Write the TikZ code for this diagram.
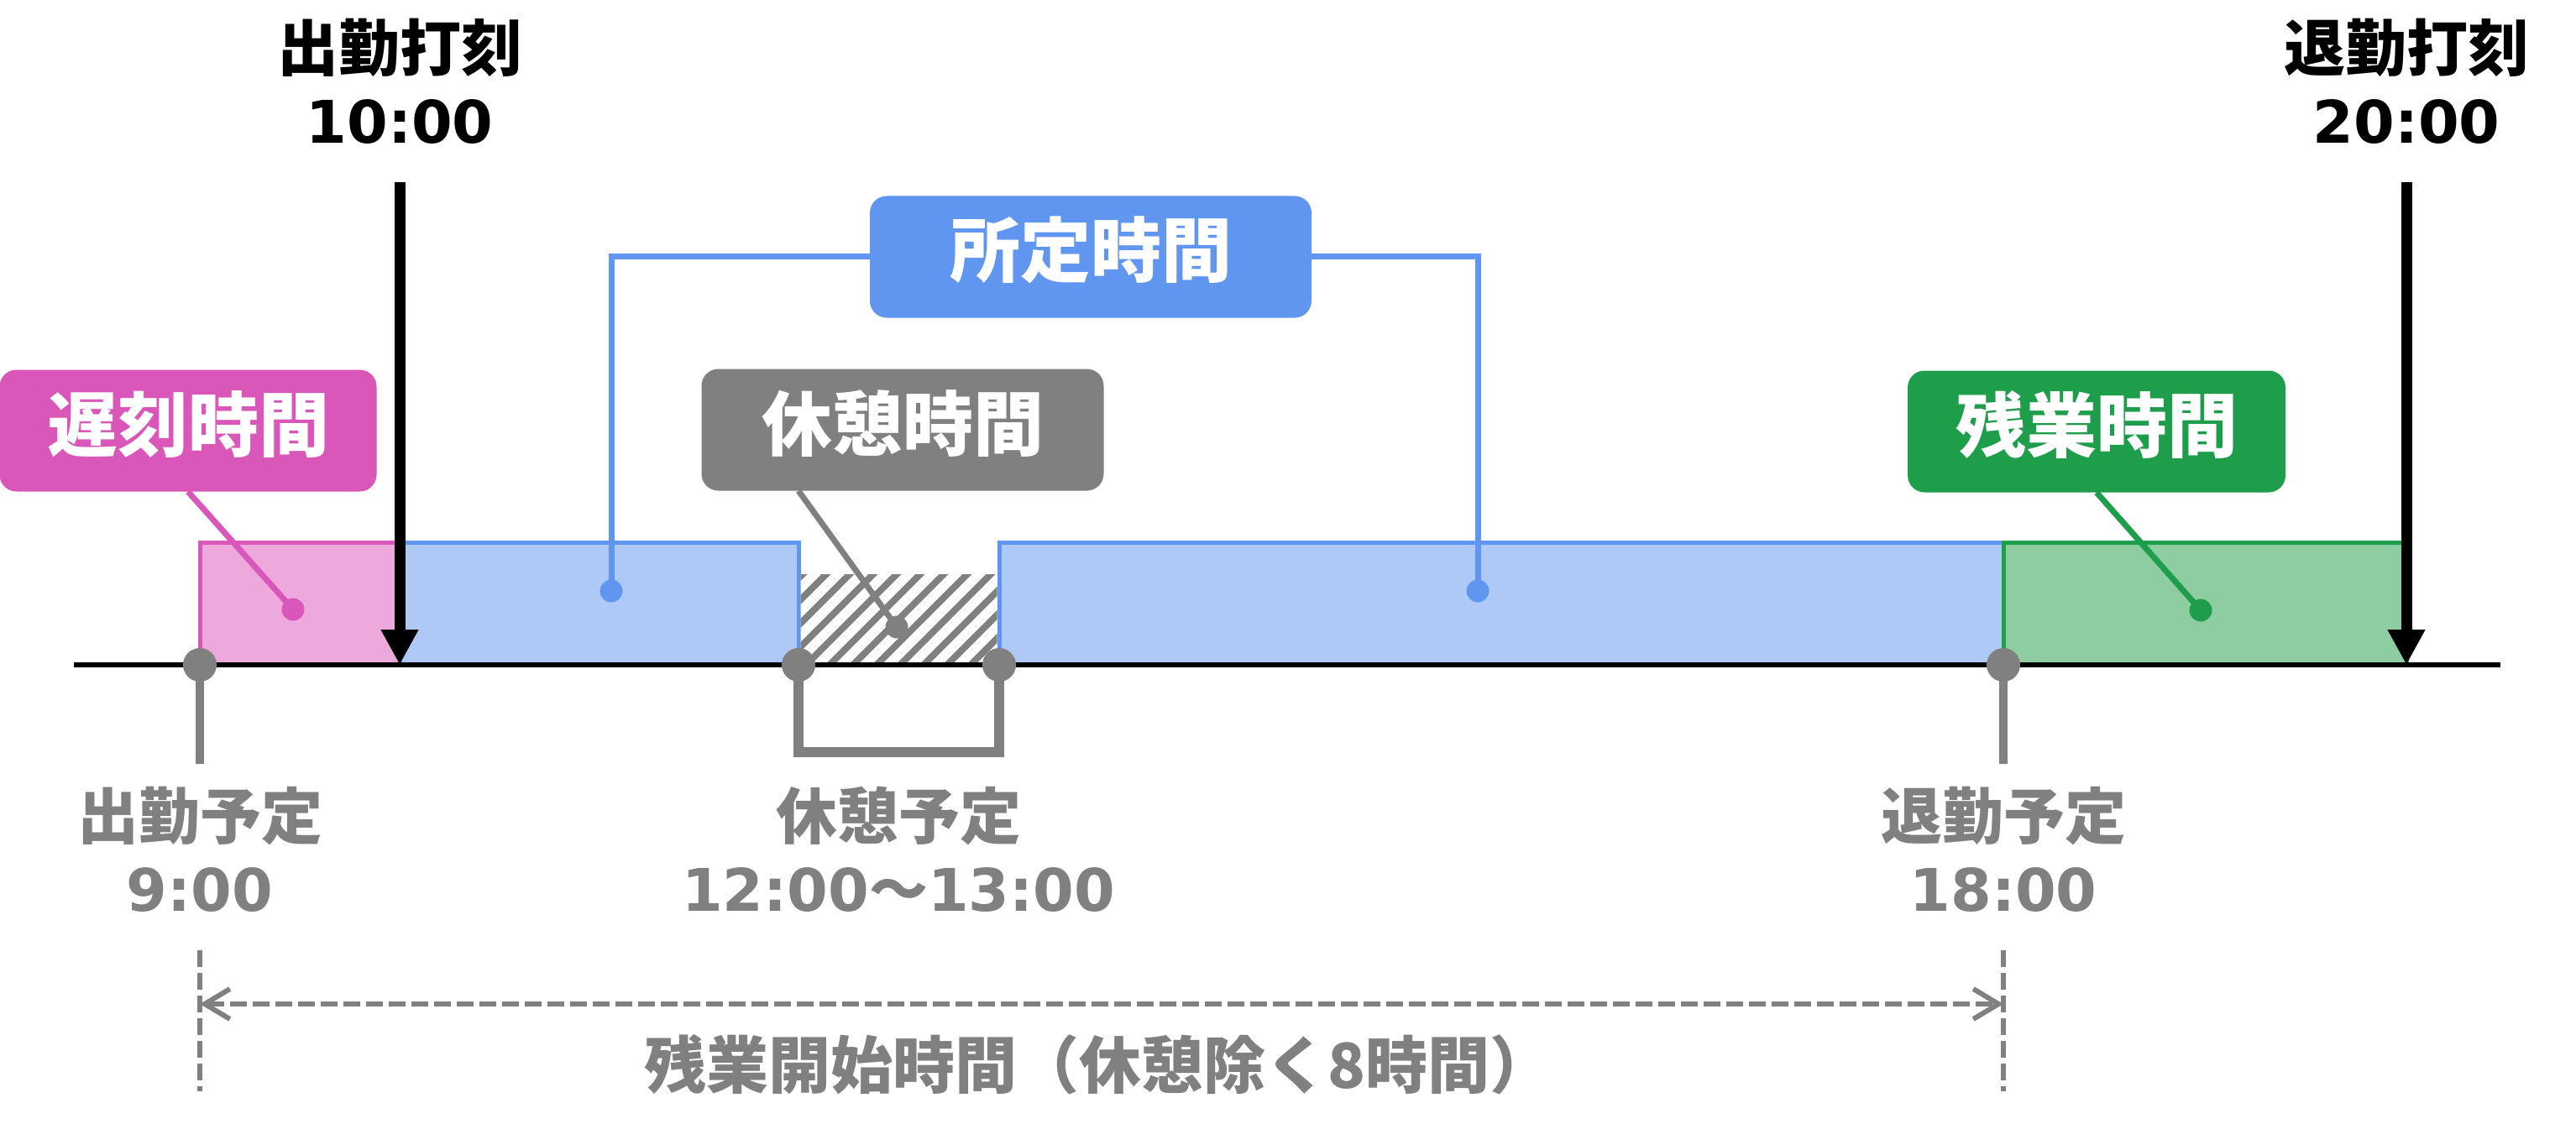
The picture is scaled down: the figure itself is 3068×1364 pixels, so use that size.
\documentclass[tikz,border=0pt]{standalone}
\usepackage{fontspec}
\setmainfont{DejaVu Sans}
\newfontfamily\cjk{Noto Sans CJK JP}
\usetikzlibrary{arrows.meta}
\definecolor{pinkD}{HTML}{D957B8}
\definecolor{pinkL}{HTML}{EDA9DC}
\definecolor{blueD}{HTML}{6196F0}
\definecolor{blueL}{HTML}{AFC9F7}
\definecolor{greenD}{HTML}{1E9E4A}
\definecolor{greenL}{HTML}{8ECDA1}
\definecolor{grayD}{HTML}{808080}
\tikzset{
  jp/.style={font=\cjk\bfseries\fontsize{73pt}{80pt}\selectfont, inner sep=0pt},
  num/.style={font=\bfseries\fontsize{70pt}{80pt}\selectfont, inner sep=0pt},
  tag/.style={rounded corners=20pt, inner sep=0pt, text=white,
    font=\cjk\bfseries\fontsize{84pt}{90pt}\selectfont, minimum height=145pt,
    text height=72pt, text depth=24pt},
  leader/.style={line width=7pt},
  dotc/.style={circle, inner sep=0pt, minimum size=27pt},
  pinc/.style={circle, fill=grayD, inner sep=0pt, minimum size=40pt},
  stem/.style={grayD, line width=10pt},
  bracket/.style={grayD, line width=12pt},
  punch/.style={line width=13pt, -{Triangle[width=42pt,length=42pt]}},
  bar/.style={line width=5pt},
  dashline/.style={grayD, line width=6pt, dash pattern=on 20pt off 7pt}
}
\begin{document}
\begin{tikzpicture}[x=1pt,y=-1pt]
\useasboundingbox (0,0) rectangle (3068,1364);
% bars
\draw[bar, pinkD, fill=pinkL] (238,646) rectangle (476,792);
\draw[bar, blueD, fill=blueL] (476,646) rectangle (951,792);
\draw[bar, blueD, fill=blueL] (1190,646) rectangle (2386,792);
\draw[bar, greenD, fill=greenL] (2386,646) rectangle (2866,792);
% hatch
\begin{scope}
  \clip (953.5,684) rectangle (1187.5,792);
  \fill[white] (951,684) rectangle (1190,792);
  \foreach \i in {830,858,...,1200} \draw[grayD, line width=8pt] (\i,810) -- ++(150,-150);
\end{scope}
% axis
\coordinate (axL) at (88,792);
\coordinate (axR) at (2978,792);
\draw[line width=6pt] (axL) -- (axR);
% pins and stems
\coordinate (p9e) at (238,910);
\coordinate (p18e) at (2386,910);
\coordinate (b1) at (951,896);
\coordinate (b2) at (1190,896);
\draw[stem] (238,792) -- (p9e);
\draw[stem] (2386,792) -- (p18e);
\draw[bracket] (951,792) -- (b1) -- (b2) -- (1190,792);
\node[pinc] (p9) at (238,792) {};
\node[pinc] (p12) at (951,792) {};
\node[pinc] (p13) at (1190,792) {};
\node[pinc] (p18) at (2386,792) {};
% punch arrows
\coordinate (in1) at (476,217);
\coordinate (in1t) at (476,792);
\coordinate (out1) at (2866,217);
\coordinate (out1t) at (2866,792);
\draw[punch] (in1) -- (in1t);
\draw[punch] (out1) -- (out1t);
% top labels
\node[jp] (t1) at (476,57) {出勤打刻};
\node[num] (t1n) at (476,145) {10:00};
\node[jp] (t2) at (2866,57) {退勤打刻};
\node[num] (t2n) at (2866,145) {20:00};
% tags
\node[tag, fill=pinkD, minimum width=449pt] (late) at (224,513) {遅刻時間};
\node[tag, fill=blueD, minimum width=526pt] (reg) at (1299,306) {所定時間};
\node[tag, fill=grayD, minimum width=479pt] (brk) at (1075,512) {休憩時間};
\node[tag, fill=greenD, minimum width=450pt] (ot) at (2497,514) {残業時間};
% leader dots
\node[dotc, fill=pinkD] (lated) at (349,726) {};
\node[dotc, fill=blueD] (regl) at (728,704) {};
\node[dotc, fill=blueD] (regr) at (1760,704) {};
\node[dotc, fill=grayD] (brkd) at (1068,747) {};
\node[dotc, fill=greenD] (otd) at (2621,727) {};
% leaders
\draw[leader, pinkD] (late.south) -- (lated.center);
\draw[leader, blueD] (reg.west) -- (reg.west -| regl) -- (regl.center);
\draw[leader, blueD] (reg.east) -- (reg.east -| regr) -- (regr.center);
\draw[leader, grayD] (brk.south -| p12) -- (brkd.center);
\draw[leader, greenD] (ot.south) -- (otd.center);
% bottom labels
\node[jp, text=grayD] (s1) at (238,972) {出勤予定};
\node[num, text=grayD] (s1n) at (238,1060) {9:00};
\node[jp, text=grayD] (s2) at (1070,972) {休憩予定};
\node[num, text=grayD] (s2n) at (1070,1060) {12:00{\cjk\bfseries ～}13:00};
\node[jp, text=grayD] (s3) at (2386,972) {退勤予定};
\node[num, text=grayD] (s3n) at (2386,1060) {18:00};
% dashed span
\coordinate (d1t) at (238,1132);
\coordinate (d1b) at (238,1300);
\coordinate (d2t) at (2386,1132);
\coordinate (d2b) at (2386,1300);
\draw[dashline] (d1t) -- (d1b);
\draw[dashline] (d2t) -- (d2b);
\coordinate (a1) at (238,1196);
\coordinate (a2) at (2386,1196);
\draw[dashline, {Straight Barb[length=30pt,width=36pt]}-{Straight Barb[length=30pt,width=36pt]}] (a1) -- (a2);
\node[jp, text=grayD, font=\cjk\bfseries\fontsize{74pt}{80pt}\selectfont] (sum) at (1308,1268) {残業開始時間（休憩除く8時間）};
\end{tikzpicture}
\end{document}
